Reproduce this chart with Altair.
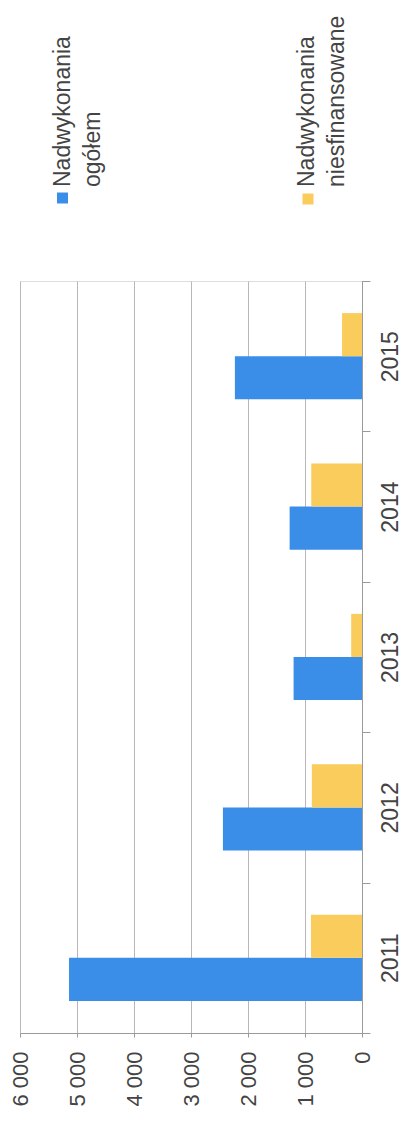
import altair as alt
import pandas as pd

years = ["2011", "2012", "2013", "2014", "2015"]
ogolem = [5140, 2440, 1200, 1270, 2230]
niesfinansowane = [895, 880, 190, 890, 350]
series = ["Nadwykonania ogółem", "Nadwykonania niesfinansowane"]
colors = ["#3a8ee8", "#f9cc5c"]
value_ticks = [0, 1000, 2000, 3000, 4000, 5000, 6000]

rows = []
for i, yr in enumerate(years):
    rows.append({"rok": yr, "seria": series[0], "wartosc": ogolem[i]})
    rows.append({"rok": yr, "seria": series[1], "wartosc": niesfinansowane[i]})
df = pd.DataFrame(rows)

FONT = "Liberation Sans"
TXT = "#444444"

bars = alt.Chart(df).mark_bar().encode(
    x=alt.X("wartosc:Q",
            scale=alt.Scale(domain=[0, 6000], reverse=True, nice=False, zero=True),
            axis=alt.Axis(values=value_ticks, title=None, orient="bottom",
                          labelExpr="replace(format(datum.value, ','), ',', ' ')",
                          labelAngle=270, labelAlign="right", labelBaseline="middle",
                          labelPadding=14, tickSize=4, tickColor="#9a9a9a",
                          domainColor="#9a9a9a", grid=True, gridColor="#b8b8b8",
                          gridWidth=1, labelFont=FONT, labelFontSize=22,
                          labelColor=TXT, labelOverlap=False)),
    y=alt.Y("rok:N", sort=list(reversed(years)),
            scale=alt.Scale(paddingInner=0, paddingOuter=0),
            axis=alt.Axis(title=None, orient="right", tickBand="extent",
                          tickSize=8, tickColor="#9a9a9a", domainColor="#9a9a9a",
                          grid=False, labelAngle=270, labelAlign="center",
                          labelBaseline="top", labelPadding=9, labelFont=FONT,
                          labelFontSize=23, labelColor=TXT)),
    yOffset=alt.YOffset("seria:N", sort=[series[1], series[0]],
                        scale=alt.Scale(paddingInner=0, paddingOuter=0.744)),
    color=alt.Color("seria:N", scale=alt.Scale(domain=series, range=colors), legend=None),
)

leg_df = pd.DataFrame({"t": [0]})

def legend_item(label_lines, color, tx, ty, sx, sy):
    sq = alt.Chart(leg_df).mark_square(size=121, color=color, opacity=1).encode(
        x=alt.value(sx), y=alt.value(sy))
    tx_mark = alt.Chart(leg_df).mark_text(
        text=label_lines, angle=270, align="left", baseline="top",
        font=FONT, fontSize=23, color=TXT, lineHeight=30).encode(
        x=alt.value(tx), y=alt.value(ty))
    return sq + tx_mark

leg1 = legend_item(["Nadwykonania", "ogółem"], colors[0], 32, -94, 42.5, -83)
leg2 = legend_item(["Nadwykonania", "niesfinansowane"], colors[1], 276, -94, 288, -82)

chart = alt.layer(bars, leg1, leg2).properties(
    width=342, height=752,
    autosize=alt.AutoSizeParams(type="none"),
    padding={"left": 12, "top": 273, "right": 39, "bottom": 82},
).configure_view(stroke=None).configure(background="white")

chart.save("out.html", embed_options={"renderer": "svg", "actions": False})
